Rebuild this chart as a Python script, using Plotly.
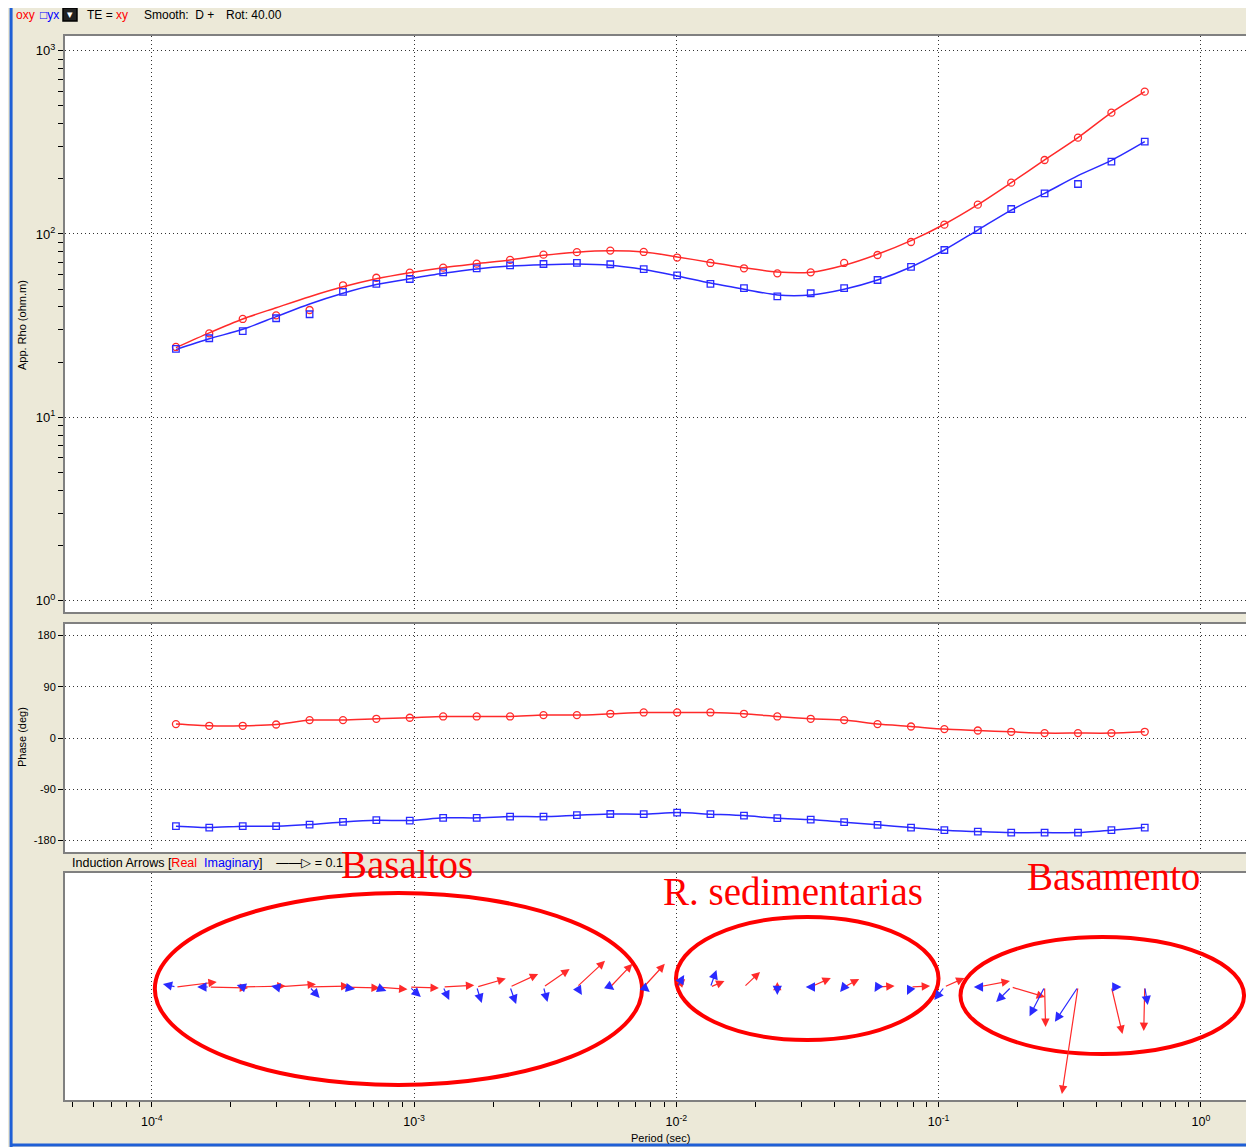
import math
import plotly.graph_objects as go

# ---------------- data ----------------
periods = [1.236e-4, 1.656e-4, 2.222e-4, 2.979e-4, 3.996e-4, 5.358e-4, 7.18e-4, 9.63e-4,
           1.291e-3, 1.733e-3, 2.323e-3, 3.115e-3, 4.177e-3, 5.60e-3, 7.51e-3,
           1.007e-2, 1.349e-2, 1.811e-2, 2.427e-2, 3.254e-2, 4.364e-2, 5.85e-2, 7.85e-2,
           0.1052, 0.1411, 0.1892, 0.2536, 0.340, 0.456, 0.611]

rho_xy = [24.2, 28.7, 34.4, 36.0, 38.5, 52.5, 57.7, 61.5, 65.5, 68.9, 72.2, 77.1, 79.6, 81.2, 79.8,
          74.4, 69.5, 65.0, 61.0, 61.8, 69.5, 76.8, 90.4, 112.4, 144.5, 190.5, 253.3, 335.3, 459.0, 597.5]
rho_xy_smooth = [24.0, 28.9, 34.4, 39.6, 45.5, 51.5, 57.0, 61.5, 65.5, 68.9, 72.2, 76.5, 79.6, 81.0, 79.8,
                 75.0, 70.0, 65.5, 62.0, 61.8, 67.5, 77.5, 92.0, 113.0, 144.5, 190.5, 253.3, 335.3, 459.0, 597.5]
rho_yx = [23.6, 27.0, 29.5, 34.7, 36.5, 48.3, 53.4, 56.8, 61.8, 65.0, 67.5, 68.6, 69.5, 68.4, 64.3,
          59.4, 53.4, 50.7, 45.7, 47.5, 50.7, 56.1, 66.1, 81.8, 105.1, 136.9, 166.7, 187.4, 248.0, 318.8]
rho_yx_smooth = [23.4, 26.8, 30.2, 35.4, 41.5, 47.5, 53.0, 57.0, 61.0, 64.5, 66.8, 68.0, 68.6, 67.5, 64.0,
                 59.0, 54.0, 50.0, 46.5, 46.5, 50.0, 56.1, 66.1, 81.8, 105.1, 135.0, 166.7, 208.0, 252.0, 318.8]

phase_xy = [24.4, 21.4, 21.4, 23.7, 31.4, 31.4, 33.7, 35.5, 37.8, 37.8, 37.8, 40.2, 40.2, 42.5, 44.8,
            44.8, 44.8, 42.5, 37.8, 33.7, 31.4, 24.4, 20.2, 15.6, 13.2, 10.9, 8.6, 8.6, 8.6, 10.9]
phase_yx = [-154.7, -157.2, -154.7, -154.7, -151.9, -147.2, -144.2, -144.9, -140.1, -140.1, -137.9,
            -137.9, -135.4, -133.3, -133.6, -130.8, -133.6, -136.1, -140.7, -143.1, -147.7, -152.4,
            -157.2, -161.7, -164.2, -166.0, -166.0, -166.0, -161.7, -157.2]

# induction arrows (east, north components)
real_x = [0.122, 0.116, 0.128, 0.119, 0.119, 0.110, 0.093, 0.087, 0.093, 0.087, 0.084, 0.078, 0.084, 0.066, 0.063,
          0.024, 0.042, 0.048, 0.0, 0.060, 0.045, 0.051, 0.057, 0.060, 0.096, 0.101, 0.003, -0.048, 0.033, -0.003]
real_y = [0.015, -0.003, 0.003, 0.008, 0.003, -0.003, -0.007, -0.003, 0.005, 0.025, 0.039, 0.054, 0.078, 0.069, 0.069,
          0.024, 0.018, 0.045, 0.015, 0.027, 0.024, 0.003, 0.003, 0.027, 0.018, -0.030, -0.119, -0.319, -0.140, -0.131]
imag_x = [-0.039, -0.036, -0.018, -0.015, 0.030, 0.036, 0.030, 0.033, 0.018, 0.015, 0.018, 0.012, 0.015, 0.012, 0.018,
          0.021, 0.018, -0.009, 0.0, -0.015, -0.012, -0.009, -0.012, -0.030, -0.012, -0.045, -0.045, -0.069, 0.030, 0.009]
imag_y = [0.009, 0.0, 0.006, 0.003, -0.033, -0.006, -0.012, -0.030, -0.039, -0.048, -0.051, -0.045, -0.024, -0.009, -0.015,
          0.036, 0.051, -0.009, -0.024, 0.0, -0.015, -0.015, -0.024, -0.039, 0.0, -0.045, -0.087, -0.104, 0.0, -0.054]

x_tick_vals = [1e-4, 1e-3, 1e-2, 1e-1, 1e0]
x_tick_text = ["10<sup>-4</sup>", "10<sup>-3</sup>", "10<sup>-2</sup>", "10<sup>-1</sup>", "10<sup>0</sup>"]
rho_tick_vals = [1, 10, 100, 1000]
rho_tick_text = ["10<sup>0</sup>", "10<sup>1</sup>", "10<sup>2</sup>", "10<sup>3</sup>"]
phase_tick_vals = [-180, -90, 0, 90, 180]
phase_tick_text = ["-180", "-90", "0", "90", "180"]

# ---------------- layout geometry ----------------
W, H = 1246, 1139
OFF = 8
ML = 57
X_RANGE = [-4.331, 0.195]
RHO_RANGE = [-0.062, 3.08]
PH_RANGE = [-200, 200]
ARR_RANGE = [-0.337, 0.340]


def px_x(xr):
    return (xr - OFF - ML) / (W - ML)


def px_y(yr):
    return 1 - (yr - OFF) / H


dom_top = [px_y(612), px_y(36)]
dom_ph = [px_y(852), px_y(624)]
dom_arr = [px_y(1100), px_y(873)]

PX_PER_DEC = (W - ML) / (X_RANGE[1] - X_RANGE[0])
ARR_PX_PER_UNIT = (1100 - 873) / (ARR_RANGE[1] - ARR_RANGE[0])
DEC_PER_UNIT = ARR_PX_PER_UNIT / PX_PER_DEC

RED = "#ff2a2a"
BLUE = "#2a2aff"
GRID = "#333333"
GRID_DASH = "1px,3px"
FRAME = "#808080"
UI_FONT = "Liberation Sans, Arial, sans-serif"

minor_x = [m * 10.0 ** e for e in range(-5, 1) for m in range(2, 10)]
minor_rho = [m * 10.0 ** e for e in range(0, 3) for m in range(2, 10)]

fig = go.Figure()

# apparent resistivity
fig.add_trace(go.Scatter(x=periods, y=rho_xy_smooth, mode="lines", line=dict(color=RED, width=1.5, shape="spline", smoothing=0.8),
                         xaxis="x", yaxis="y", showlegend=False, hoverinfo="skip"))
fig.add_trace(go.Scatter(x=periods, y=rho_yx_smooth, mode="lines", line=dict(color=BLUE, width=1.5, shape="spline", smoothing=0.8),
                         xaxis="x", yaxis="y", showlegend=False, hoverinfo="skip"))
fig.add_trace(go.Scatter(x=periods, y=rho_xy, mode="markers",
                         marker=dict(symbol="circle-open", size=7, color=RED, line=dict(width=1.3)),
                         xaxis="x", yaxis="y", showlegend=False))
fig.add_trace(go.Scatter(x=periods, y=rho_yx, mode="markers",
                         marker=dict(symbol="square-open", size=6.5, color=BLUE, line=dict(width=1.3)),
                         xaxis="x", yaxis="y", showlegend=False))

# phase
fig.add_trace(go.Scatter(x=periods, y=phase_xy, mode="lines+markers", line=dict(color=RED, width=1.5, shape="spline", smoothing=0.6),
                         marker=dict(symbol="circle-open", size=7, color=RED, line=dict(width=1.3)),
                         xaxis="x2", yaxis="y2", showlegend=False))
fig.add_trace(go.Scatter(x=periods, y=phase_yx, mode="lines+markers", line=dict(color=BLUE, width=1.5, shape="spline", smoothing=0.6),
                         marker=dict(symbol="square-open", size=6.5, color=BLUE, line=dict(width=1.3)),
                         xaxis="x2", yaxis="y2", showlegend=False))

# invisible trace to establish arrow axes
fig.add_trace(go.Scatter(x=periods, y=[0] * len(periods), mode="markers", marker=dict(size=1, opacity=0),
                         xaxis="x3", yaxis="y3", showlegend=False, hoverinfo="skip"))

annotations = []
for T, dx, dy in zip(periods, real_x, real_y):
    lx = math.log10(T)
    annotations.append(dict(x=lx + dx * DEC_PER_UNIT, y=dy, ax=lx, ay=0, xref="x3", yref="y3", axref="x3", ayref="y3",
                            showarrow=True, arrowhead=2, arrowsize=1.4, arrowwidth=1.2, arrowcolor=RED, text="",
                            standoff=0, startstandoff=0))
for T, dx, dy in zip(periods, imag_x, imag_y):
    lx = math.log10(T)
    annotations.append(dict(x=lx + dx * DEC_PER_UNIT, y=dy, ax=lx, ay=0, xref="x3", yref="y3", axref="x3", ayref="y3",
                            showarrow=True, arrowhead=2, arrowsize=1.55, arrowwidth=1.2, arrowcolor=BLUE, text="",
                            standoff=0, startstandoff=0))


def txt(x, y, text, size=12, color="black", family=UI_FONT, xanchor="left", angle=0):
    annotations.append(dict(x=px_x(x), y=px_y(y), xref="paper", yref="paper", text=text, showarrow=False,
                            xanchor=xanchor, yanchor="middle", textangle=angle,
                            font=dict(size=size, color=color, family=family)))


# header
HY = 15
txt(14, HY, "oxy", 12, "#ff0000")
txt(38, HY, "\u25a1yx", 12, "#0000ff")
txt(85, HY, "TE = <span style='color:#ff0000'>xy</span>", 12)
txt(142, HY, "Smooth:  D +", 12)
txt(224, HY, "Rot: 40.00", 12)
txt(70, HY - 1, "\u25be", 11, "white", xanchor="center")

# axis titles
txt(22, 325, "App. Rho (ohm.m)", 11, xanchor="center", angle=-90)
txt(22, 737, "Phase (deg)", 11, xanchor="center", angle=-90)
txt(662, 1138, "Period (sec)", 11, xanchor="center")
txt(70, 863, "Induction Arrows [<span style='color:#ff0000'>Real</span>  <span style='color:#0000ff'>Imaginary</span>]"
             "    \u2014\u2014\u25b7 = 0.1", 12.5)

# region labels
SERIF = "Liberation Serif, Times New Roman, serif"
txt(408, 864, "Basaltos", 39, "#ff0000", SERIF, xanchor="center")
txt(794, 891, "R. sedimentarias", 39, "#ff0000", SERIF, xanchor="center")
txt(1115, 876, "Basamento", 39, "#ff0000", SERIF, xanchor="center")

shapes = [
    # dropdown icon
    dict(type="rect", xref="paper", yref="paper", x0=px_x(63), x1=px_x(77), y0=px_y(21), y1=px_y(8),
         line=dict(color="black", width=1.5), fillcolor="#222222", layer="below"),
    # window border
    dict(type="line", xref="paper", yref="paper", x0=px_x(11), x1=px_x(11), y0=px_y(1147), y1=px_y(8),
         line=dict(color="#1f5fd6", width=3)),
    dict(type="line", xref="paper", yref="paper", x0=px_x(11), x1=px_x(1254), y0=px_y(1145), y1=px_y(1145),
         line=dict(color="#1f5fd6", width=3)),
    # ellipses
    dict(type="circle", xref="paper", yref="paper", x0=px_x(155), x1=px_x(643), y0=px_y(1085), y1=px_y(893),
         line=dict(color="#ff0000", width=4)),
    dict(type="circle", xref="paper", yref="paper", x0=px_x(677), x1=px_x(940), y0=px_y(1040), y1=px_y(917),
         line=dict(color="#ff0000", width=4)),
    dict(type="circle", xref="paper", yref="paper", x0=px_x(962), x1=px_x(1246), y0=px_y(1054), y1=px_y(937),
         line=dict(color="#ff0000", width=4)),
]

common_x = dict(type="log", range=X_RANGE, showgrid=True, gridcolor=GRID, griddash=GRID_DASH, gridwidth=1,
                tickvals=x_tick_vals, zeroline=False, showline=True, linecolor=FRAME, linewidth=2, mirror=True)

fig.update_layout(
    width=W, height=H,
    margin=dict(l=ML, r=0, t=0, b=0),
    paper_bgcolor="#ece9d8", plot_bgcolor="white",
    font=dict(family=UI_FONT, size=11, color="black"),
    hovermode=False,
    xaxis=dict(common_x, anchor="y", domain=[0, 1], showticklabels=False, ticks=""),
    xaxis2=dict(common_x, anchor="y2", domain=[0, 1], showticklabels=False, ticks=""),
    xaxis3=dict(common_x, anchor="y3", domain=[0, 1], showticklabels=True, ticktext=x_tick_text,
                ticks="outside", ticklen=5, tickcolor="black", ticklabelstandoff=4,
                minor=dict(tickvals=minor_x, ticks="outside", ticklen=5, tickcolor="black", showgrid=False),
                tickfont=dict(size=12.5, family=UI_FONT)),
    yaxis=dict(type="log", domain=dom_top, anchor="x", range=RHO_RANGE, tickvals=rho_tick_vals, ticktext=rho_tick_text,
               showgrid=True, gridcolor=GRID, griddash=GRID_DASH, ticks="outside", ticklen=5, tickcolor="black",
               minor=dict(tickvals=minor_rho, ticks="outside", ticklen=5, tickcolor="black", showgrid=False),
               showline=True, linecolor=FRAME, linewidth=2, mirror=True, zeroline=False,
               tickfont=dict(size=13, family=UI_FONT)),
    yaxis2=dict(domain=dom_ph, anchor="x2", range=PH_RANGE, tickvals=phase_tick_vals, ticktext=phase_tick_text,
                showgrid=True, gridcolor=GRID, griddash=GRID_DASH, ticks="outside", ticklen=5, tickcolor="black",
                showline=True, linecolor=FRAME, linewidth=2, mirror=True, zeroline=False,
                tickfont=dict(size=11, family=UI_FONT)),
    yaxis3=dict(domain=dom_arr, anchor="x3", range=ARR_RANGE, showgrid=False, showticklabels=False, ticks="",
                showline=True, linecolor=FRAME, linewidth=2, mirror=True, zeroline=False),
    annotations=annotations,
    shapes=shapes,
)

fig.write_html("out.html", config={"displayModeBar": False})
